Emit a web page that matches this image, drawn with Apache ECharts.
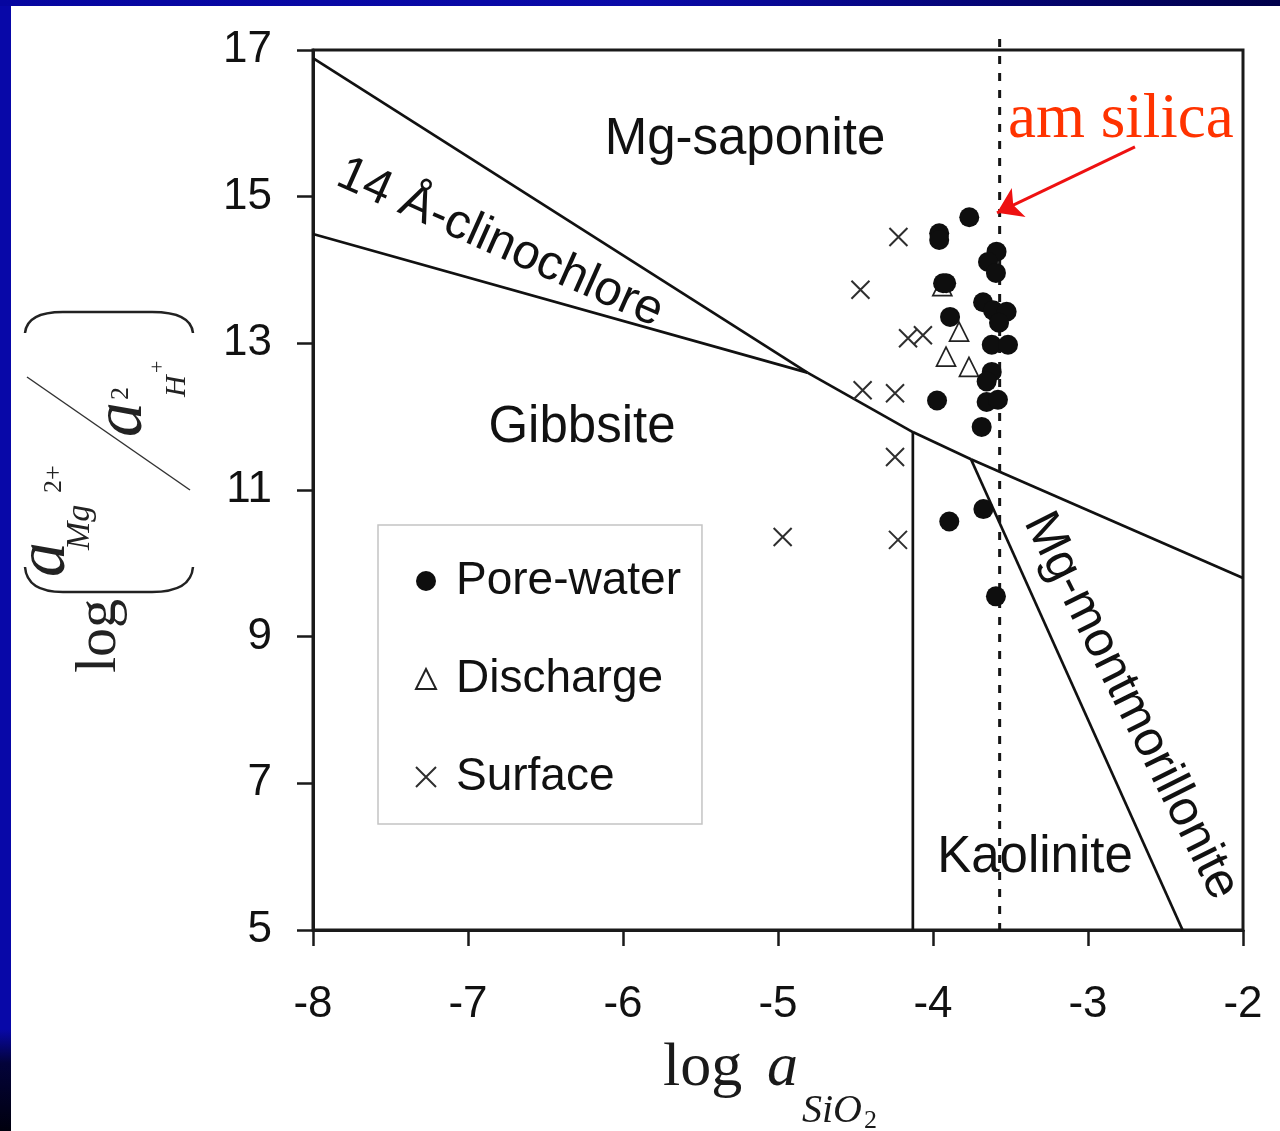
<!DOCTYPE html>
<html>
<head>
<meta charset="utf-8">
<title>log(aMg/aH2) vs log aSiO2</title>
<script src="https://cdn.jsdelivr.net/npm/echarts@6/dist/echarts.min.js"></script>
<style>
html,body{margin:0;padding:0;width:1280px;height:1131px;overflow:hidden;
  background:linear-gradient(to bottom,#0808a8 0%,#0808a8 91%,#03033a 94%,#00000e 100%);}
#topband{position:absolute;left:0;top:0;width:1280px;height:6px;background:linear-gradient(to right,#0606a0,#0a0aa8 50%,#00004a);}
#paper{position:absolute;left:11px;top:6px;right:0;bottom:0;background:#fff;}
#main{position:absolute;left:0;top:0;width:1280px;height:1131px;}
</style>
</head>
<body>
<div id="topband"></div>
<div id="paper"></div>
<div id="main"></div>
<script>
// 坐标轴
var xTicks=[-8,-7,-6,-5,-4,-3,-2];
var yTicks=[5,7,9,11,13,15,17];

// 样品点 [log aSiO2, log(aMg/aH^2)]
var poreWater=[[-3.766,14.72],[-3.96,14.50],[-3.96,14.41],[-3.59,14.25],[-3.645,14.11],[-3.594,13.96],
    [-3.935,13.82],[-3.915,13.82],[-3.677,13.56],[-3.613,13.45],[-3.525,13.43],[-3.574,13.28],[-3.89,13.36],
    [-3.621,12.98],[-3.516,12.98],[-3.621,12.61],[-3.654,12.48],[-3.654,12.20],[-3.581,12.23],[-3.974,12.22],
    [-3.686,11.86],[-3.675,10.74],[-3.895,10.57],[-3.594,9.55]];
var discharge=[[-3.94,13.78],[-3.832,13.16],[-3.916,12.82],[-3.768,12.68]];
var surface=[[-4.223,14.45],[-4.468,13.73],[-4.161,13.07],[-4.065,13.11],[-4.454,12.36],[-4.245,12.32],
    [-4.245,11.45],[-4.97,10.36],[-4.226,10.32]];

// 相界线
var clinoUpper=[[-8,16.89],[-4.81,12.6]];
var clinoLower=[[-8,14.49],[-4.81,12.6]];
var gibbsiteTop=[[-4.81,12.6],[-4.13,11.79]];
var kaoliniteTop=[[-4.13,11.79],[-3.755,11.42]];
var montTop=[[-3.755,11.42],[-2,9.8]];
var gibbKaol=[[-4.13,11.79],[-4.13,5]];
var kaolMont=[[-3.755,11.42],[-2.39,5]];
var amSilica=[[-3.57,17.15],[-3.57,5]];
var arrowFrom=[-2.697,15.68];
var arrowTo=[-3.587,14.78];

var sans='"Liberation Sans", Arial, sans-serif';
var serif='"Liberation Serif", "Times New Roman", serif';
var crossPath='path://M0,0L18,18M18,0L0,18';

function boundary(name,data){
    return {
        name:name,
        type:'line',
        data:data,
        showSymbol:false,
        silent:true,
        z:2,
        lineStyle:{color:'#111',width:2.7}
    };
};

function txt(s,x,y,size,opt){
    opt=opt||{};
    return {
        type:'text',
        x:x,
        y:y,
        rotation:opt.rot||0,
        z:50,
        silent:true,
        style:{
            text:s,
            fontSize:size,
            fontFamily:opt.family||sans,
            fontStyle:opt.italic?'italic':'normal',
            fill:opt.color||'#111',
            align:opt.align||'center',
            verticalAlign:'middle'
        }
    };
};

// 括号：两段二次曲线 + 一段直线
function paren(tipX,flatX){
    var st={stroke:'#222',lineWidth:2.5,fill:'none'};
    return [
        {type:'bezierCurve',shape:{x1:tipX,y1:25,cpx1:flatX,cpy1:27,x2:flatX,y2:63},style:st},
        {type:'line',shape:{x1:flatX,y1:63,x2:flatX,y2:152},style:st},
        {type:'bezierCurve',shape:{x1:flatX,y1:152,cpx1:flatX,cpy1:191,x2:tipX,y2:193},style:st}
    ];
};

var myChart=echarts.init(document.getElementById('main'),null,{renderer:'canvas'});

var yTitle=[
    txt('log',27,100,58,{family:serif,align:'left',color:'#222'}),
    txt('a',123,46,70,{family:serif,italic:true,align:'left',color:'#222'}),
    txt('Mg',150,80,34,{family:serif,italic:true,align:'left',color:'#222'}),
    txt('2+',207,54,26,{family:serif,align:'left',color:'#222'}),
    {type:'line',shape:{x1:210,y1:190,x2:323,y2:27},style:{stroke:'#333',lineWidth:1.5}},
    txt('a',263,123,70,{family:serif,italic:true,align:'left',color:'#222'}),
    txt('2',300,121,26,{family:serif,align:'left',color:'#222'}),
    txt('H',303,177,30,{family:serif,italic:true,align:'left',color:'#222'}),
    txt('+',327,158,22,{family:serif,align:'left',color:'#222'})
].concat(paren(133,108)).concat(paren(367,388));

var option={
    animation:false,
    backgroundColor:'transparent',
    grid:{
        left:313,right:37,top:50,bottom:201,
        show:true,borderColor:'#1a1a1a',borderWidth:3,backgroundColor:'transparent'
    },
    xAxis:{
        type:'value',min:-8,max:-2,interval:1,
        axisLine:{lineStyle:{color:'#1a1a1a',width:3}},
        axisTick:{length:16,lineStyle:{color:'#1a1a1a',width:2.5}},
        axisLabel:{margin:53,fontSize:44,fontFamily:sans,color:'#111'},
        splitLine:{show:false}
    },
    yAxis:{
        type:'value',min:5,max:17,
        axisLine:{show:true,lineStyle:{color:'#1a1a1a',width:3}},
        axisTick:{show:true,length:16,customValues:yTicks,lineStyle:{color:'#1a1a1a',width:2.5}},
        axisLabel:{margin:41,fontSize:44,fontFamily:sans,color:'#111',customValues:yTicks},
        splitLine:{show:false}
    },
    legend:{
        data:['Pore-water','Discharge','Surface'],
        orient:'vertical',
        left:378,top:525,
        padding:[31,21,22,37],
        itemGap:48,
        itemWidth:20,itemHeight:20,
        borderColor:'#c4c4c4',borderWidth:1.5,
        backgroundColor:'#fff',
        selectedMode:false,
        textStyle:{fontSize:46,fontFamily:sans,color:'#111',lineHeight:50,padding:[0,0,0,15]}
    },
    series:[
        boundary('clinoUpper',clinoUpper),
        boundary('clinoLower',clinoLower),
        boundary('gibbsiteTop',gibbsiteTop),
        boundary('kaoliniteTop',kaoliniteTop),
        boundary('montTop',montTop),
        boundary('gibbKaol',gibbKaol),
        boundary('kaolMont',kaolMont),
        {
            name:'amSilica',
            type:'line',
            data:amSilica,
            showSymbol:false,
            silent:true,
            clip:false,
            z:3,
            lineStyle:{color:'#151515',width:3,type:[8,9]},
            markLine:{
                silent:true,
                symbol:['none','arrow'],
                symbolSize:24,
                label:{show:false},
                lineStyle:{color:'#ee1111',width:3,type:'solid'},
                data:[[{coord:arrowFrom},{coord:arrowTo}]]
            }
        },
        {
            name:'Surface',
            type:'scatter',
            data:surface,
            symbol:crossPath,
            symbolSize:18,
            z:5,
            itemStyle:{color:'rgba(0,0,0,0)',borderColor:'#2e2e2e',borderWidth:2,opacity:1}
        },
        {
            name:'Discharge',
            type:'scatter',
            data:discharge,
            symbol:'triangle',
            symbolSize:19,
            z:6,
            itemStyle:{color:'#fff',borderColor:'#222',borderWidth:1.7,opacity:1}
        },
        {
            name:'Pore-water',
            type:'scatter',
            data:poreWater,
            symbol:'circle',
            symbolSize:20,
            z:7,
            itemStyle:{color:'#0e0e0e',opacity:1}
        }
    ],
    graphic:[
        txt('Mg-saponite',745,140,51),
        txt('Gibbsite',582,428,51),
        txt('Kaolinite',1035,858,51),
        txt('14 Å-clinochlore',500,243,49,{rot:-24*Math.PI/180}),
        txt('Mg-montmorillonite',1131,706,50,{rot:-63.5*Math.PI/180}),
        txt('am silica',1008,120,63,{family:serif,color:'#ff3300',align:'left'}),
        // x 轴标题
        txt('log',663,1069,62,{family:serif,align:'left',color:'#1a1a1a'}),
        txt('a',767,1069,62,{family:serif,italic:true,align:'left',color:'#1a1a1a'}),
        txt('SiO',802,1111,40,{family:serif,italic:true,align:'left',color:'#1a1a1a'}),
        txt('2',864,1121,26,{family:serif,align:'left',color:'#1a1a1a'}),
        // y 轴标题
        {
            type:'group',
            x:0,y:700,
            rotation:Math.PI/2,
            z:50,
            children:yTitle
        }
    ]
};

myChart.setOption(option);
</script>
</body>
</html>
